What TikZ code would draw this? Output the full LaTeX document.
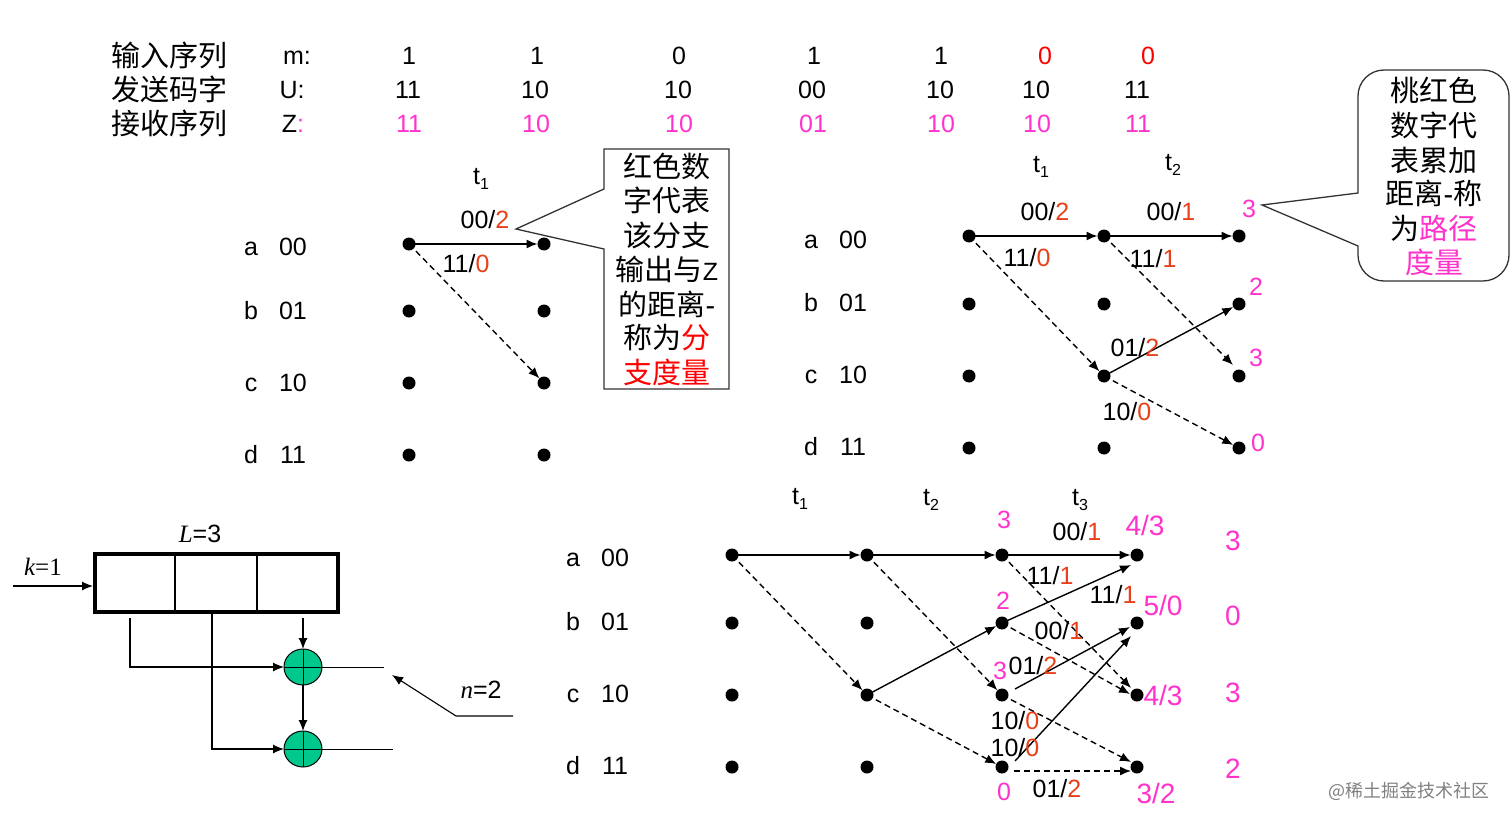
\documentclass[tikz,border=0pt]{standalone}
\usepackage{fontspec}
\setmainfont{Liberation Sans}
\newfontfamily\cjk{Noto Sans CJK SC}
\newfontfamily\tms{Liberation Serif}
\usetikzlibrary{arrows.meta,shapes.geometric}
\definecolor{redm}{HTML}{E8401A}
\definecolor{pinkm}{HTML}{FF33CC}
\definecolor{greenc}{HTML}{00C78C}
\newcounter{lbl}
\newcommand{\fs}[1]{\fontsize{#1}{#1}\selectfont}
% \T[style]{x}{y}{text}
\newcommand{\T}[4][]{\stepcounter{lbl}\node[txt,#1] (t\thelbl) at (#2,#3) {#4};}
\newcommand{\tsub}[1]{t\raisebox{-5pt}{\fs{16}#1}}
\newcommand{\bm}[2]{#1/\textcolor{redm}{#2}}
\begin{document}
\begin{tikzpicture}[x=1pt,y=-1pt,
  txt/.style={inner sep=0pt,outer sep=0pt,font=\fs{25},text height=18pt,text depth=0pt},
  big/.style={font=\fs{28},text height=20pt},
  pink/.style={text=pinkm},
  cn/.style={inner sep=0pt,outer sep=0pt,font=\fs{29}\cjk},
  dot/.style={circle,fill=black,minimum size=13pt,inner sep=0pt,outer sep=0pt},
  arr/.style={line width=1.4pt,-{Latex[length=11pt,width=9pt]}},
  dsh/.style={arr,dash pattern=on 6pt off 4pt},
  thin line/.style={line width=1pt},
  thin arr/.style={line width=1.1pt,-{Latex[length=11pt,width=9pt]}},
  xor/.style={ellipse,draw=black,line width=1pt,fill=greenc,minimum width=38pt,minimum height=36pt,inner sep=0pt,outer sep=0pt},
  callout/.style={draw=black!80,line width=1.3pt,fill=white,line join=miter}]
\useasboundingbox (0,0) rectangle (1512,824);
% header
\node[cn] (h1) at (169,55) {输入序列};
\node[cn] (h2) at (169,89) {发送码字};
\node[cn] (h3) at (169,123) {接收序列};
\T{297}{56}{m:}\T{292}{90}{U:}\T{293}{124}{Z\textcolor{pinkm}{:}}
\foreach \x/\v in {409/1,537/1,679/0,814/1,941/1}{\T{\x}{56}{\v}}
\foreach \x/\v in {1045/0,1148/0}{\T[text=red]{\x}{56}{\v}}
\foreach \x/\v in {408/11,535/10,678/10,812/00,940/10,1036/10,1137/11}{\T{\x}{90}{\v}}
\foreach \x/\v in {409/11,536/10,679/10,813/01,941/10,1037/10,1138/11}{\T[pink]{\x}{124}{\v}}
% grid dots
\foreach \n/\x in {1/409,2/544}\foreach \s/\y in {a/244,b/311,c/383,d/455}{\node[dot] (A\s\n) at (\x,\y) {};}
\foreach \n/\x in {1/969,2/1104,3/1239}\foreach \s/\y in {a/236,b/304,c/376,d/448}{\node[dot] (B\s\n) at (\x,\y) {};}
\foreach \n/\x in {1/732,2/867,3/1002,4/1137}\foreach \s/\y in {a/555,b/623,c/695,d/767}{\node[dot] (C\s\n) at (\x,\y) {};}
% row labels
\foreach \s/\bits/\y in {a/00/246,b/01/310,c/10/382,d/11/454}{\T{251}{\y}{\s}\T{293}{\y}{\bits}}
\foreach \s/\bits/\y in {a/00/239,b/01/302,c/10/374,d/11/446}{\T{811}{\y}{\s}\T{853}{\y}{\bits}}
\foreach \s/\bits/\y in {a/00/557,b/01/621,c/10/693,d/11/765}{\T{573}{\y}{\s}\T{615}{\y}{\bits}}
% first trellis
\draw[arr] (Aa1.center) -- (Aa2);
\draw[dsh] (Aa1.center) -- (Ac2);
% second trellis
\draw[arr] (Ba1.center) -- (Ba2);
\draw[arr] (Ba2.center) -- (Ba3);
\draw[dsh] (Ba1.center) -- (Bc2);
\coordinate (bc3tip) at (1233,365);
\draw[dsh] (Ba2.center) -- (bc3tip);
\draw[arr] (Bc2.center) -- (Bb3);
\draw[dsh] (Bc2.center) -- (Bd3);
% third trellis
\draw[arr] (Ca1.center) -- (Ca2);
\draw[arr] (Ca2.center) -- (Ca3);
\draw[arr] (Ca3.center) -- (Ca4);
\draw[dsh] (Ca1.center) -- (Cc2);
\draw[dsh] (Ca2.center) -- (Cc3);
\draw[arr] (Cc2.center) -- (Cb3);
\draw[dsh] (Cc2.center) -- (Cd3);
\coordinate (a4tip) at (1131,565);
\coordinate (c4tipa) at (1131,688);
\coordinate (c4tipb) at (1130,694);
\coordinate (b4tipc) at (1130,627);
\coordinate (b4tipd) at (1131,636);
\coordinate (d4tip) at (1131,762);
\draw[dsh] (Ca3.center) -- (c4tipa);
\draw[arr] (Cb3.center) -- (a4tip);
\draw[dsh] (Cb3.center) -- (c4tipb);
\coordinate (c3out) at (1015,689);
\coordinate (d3out) at (1015,761);
\coordinate (d3dash) at (1014,771);
\coordinate (d4dash) at (1131,771);
\draw[arr] (c3out) -- (b4tipc);
\draw[arr] (d3out) -- (b4tipd);
\draw[dsh] (Cc3.center) -- (d4tip);
\draw[dsh] (d3dash) -- (d4dash);
% first trellis labels
\T{481}{175}{\tsub{1}}
\T{485}{219}{\bm{00}{2}}
\T{466}{263}{\bm{11}{0}}
% second trellis labels
\T{1041}{163}{\tsub{1}}\T{1173}{162}{\tsub{2}}
\T{1045}{211}{\bm{00}{2}}\T{1171}{211}{\bm{00}{1}}
\T{1027}{257}{\bm{11}{0}}\T{1153}{258}{\bm{11}{1}}
\T{1135}{347}{\bm{01}{2}}\T{1127}{411}{\bm{10}{0}}
\T[pink]{1249}{208}{3}\T[pink]{1256}{286}{2}\T[pink]{1256}{357}{3}\T[pink]{1258}{442}{0}
% third trellis labels
\T{800}{495}{\tsub{1}}\T{931}{496}{\tsub{2}}\T{1080}{496}{\tsub{3}}
\T[pink]{1004}{519}{3}\T[pink]{1003}{600}{2}\T[pink]{1000}{670}{3}\T[pink]{1004}{791}{0}
\T{1077}{531}{\bm{00}{1}}\T{1050}{575}{\bm{11}{1}}\T{1113}{594}{\bm{11}{1}}
\T{1059}{630}{\bm{00}{1}}\T{1033}{665}{\bm{01}{2}}
\T{1015}{720}{\bm{10}{0}}\T{1015}{747}{\bm{10}{0}}\T{1057}{788}{\bm{01}{2}}
\T[pink,big]{1145}{525}{4/3}\T[pink,big]{1163}{605}{5/0}\T[pink,big]{1163}{695}{4/3}\T[pink,big]{1156}{793}{3/2}
\T[pink,big]{1233}{540}{3}\T[pink,big]{1233}{615}{0}\T[pink,big]{1233}{692}{3}\T[pink,big]{1233}{768}{2}
% callout 1
\draw[callout] (604,149) -- (729,149) -- (729,389) -- (604,389) -- (604,249) -- (516,229) -- (604,189) -- cycle;
\foreach \i/\y/\t in {1/166/{\cjk 红色数},2/200/{\cjk 字代表},3/235/{\cjk 该分支},4/269/{\cjk 输出与}{\fs{25}Z},5/304/{\cjk 的距离}-,6/338/{\cjk 称为\textcolor{red}{分}},7/372/{\cjk\textcolor{red}{支度量}}}{\node[inner sep=0pt,font=\fs{29}] (ca\i) at (667,\y) {\t};}
% callout 2
\draw[callout,rounded corners=26pt] (1358,193) -- (1358,70) -- (1509,70) -- (1509,281) -- (1358,281) [sharp corners] -- (1358,246) -- (1262,205) -- cycle;
\foreach \i/\y/\t in {1/90/{\cjk 桃红色},2/125/{\cjk 数字代},3/160/{\cjk 表累加},4/193/{\cjk 距离}-{\cjk 称},5/228/{\cjk 为\textcolor{pinkm}{路径}},6/262/{\cjk\textcolor{pinkm}{度量}}}{\node[inner sep=0pt,font=\fs{29}] (cb\i) at (1434,\y) {\t};}
% encoder
\draw[line width=4pt] (95,554) rectangle (338,612);
\coordinate (d1t) at (175,552);\coordinate (d1b) at (175,612);
\coordinate (d2t) at (257,552);\coordinate (d2b) at (257,612);
\draw[line width=1.5pt] (d1t) -- (d1b) (d2t) -- (d2b);
\node[xor] (x1) at (303,667) {};
\node[xor] (x2) at (303,749) {};
\draw[thin line] (x1.north) -- (x1.south) (x1.west) -- (x1.east);
\draw[thin line] (x2.north) -- (x2.south) (x2.west) -- (x2.east);
\coordinate (in) at (13,586);\coordinate (inb) at (93,586);
\draw[thin arr] (in) -- (inb);
\coordinate (r1) at (130,618);\coordinate (r2) at (212,612);\coordinate (r3) at (303,618);
\draw[thin arr] (r1) |- (x1.west);
\draw[thin arr] (r2) |- (x2.west);
\draw[thin arr] (r3) -- (x1.north);
\draw[thin arr] (x1.south) -- (x2.north);
\coordinate (o1) at (384,667);\coordinate (o2) at (393,749);
\draw[thin line] (x1.east) -- (o1);
\draw[thin line] (x2.east) -- (o2);
\coordinate (n0) at (513,716);\coordinate (n1) at (456,716);\coordinate (n2) at (392,675);
\draw[thin arr] (n0) -- (n1) -- (n2);
\T{200}{533}{{\tms\itshape L}=3}
\T{43}{566}{{\tms\itshape k}{\tms=1}}
\T{481}{689}{{\tms\itshape n}=2}
% watermark
\node[inner sep=0pt,text=black!50,font=\fs{18}\cjk] (wm) at (1409,791) {@稀土掘金技术社区};
\end{tikzpicture}
\end{document}
